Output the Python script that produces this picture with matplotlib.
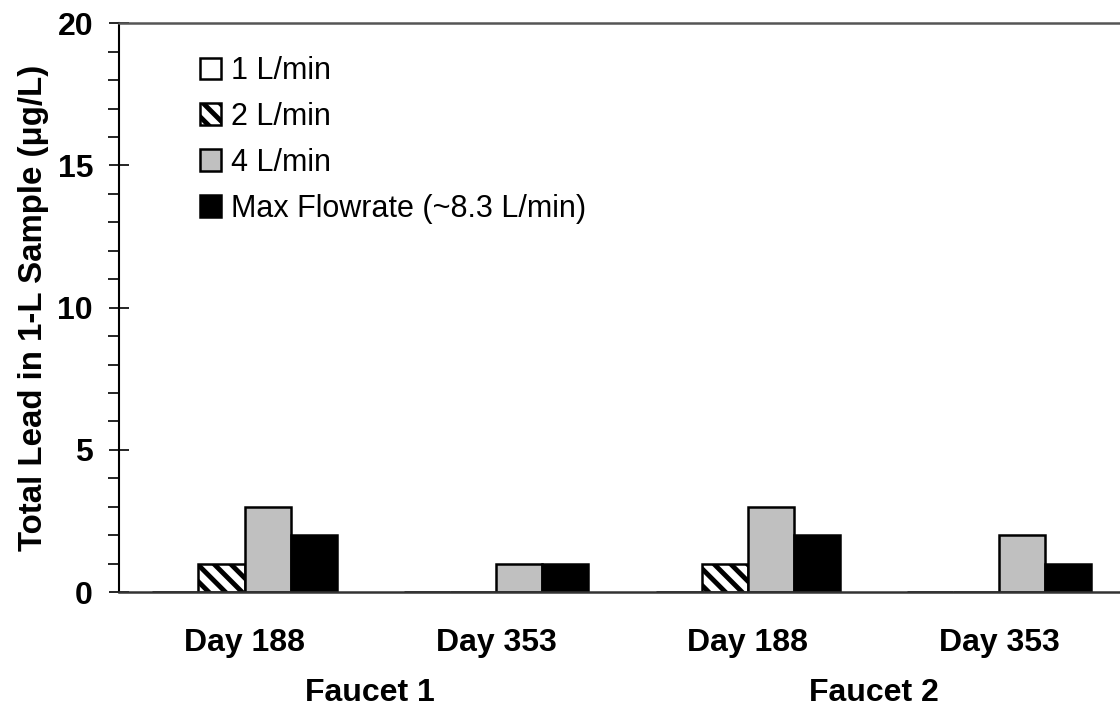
import matplotlib.pyplot as plt
import numpy as np

plt.rcParams['font.family'] = ['Liberation Sans', 'DejaVu Sans']
plt.rcParams['hatch.linewidth'] = 3.5

days = ['Day 188', 'Day 353', 'Day 188', 'Day 353']
faucets = ['Faucet 1', 'Faucet 2']
series = ['1 L/min', '2 L/min', '4 L/min', 'Max Flowrate (~8.3 L/min)']
lead_1lpm = [0, 0, 0, 0]
lead_2lpm = [1, 0, 1, 0]
lead_4lpm = [3, 1, 3, 2]
lead_max = [2, 1, 2, 1]

values = [lead_1lpm, lead_2lpm, lead_4lpm, lead_max]
colors = ['white', 'white', '#c0c0c0', 'black']
hatches = [None, '\\\\', None, None]

fig = plt.figure(figsize=(11.2, 7.25), dpi=100)
ax = fig.add_axes([0.106, 0.1834, 0.894, 0.7846])

x = np.arange(len(days))
w = 0.183
for i, (vals, c, h, lab) in enumerate(zip(values, colors, hatches, series)):
    vals = np.array(vals, dtype=float)
    ax.bar(x + (i - 1.5) * w, vals, w, color=c, edgecolor='black',
           linewidth=1.8, hatch=h, label=lab)

ax.set_xlim(-0.5, 3.48)
ax.set_ylim(0, 20)
ax.set_yticks([0, 5, 10, 15, 20])
ax.set_yticks(np.arange(0, 21, 1), minor=True)
ax.tick_params(axis='y', which='major', direction='inout', length=15,
               width=1.2, labelsize=23, pad=11)
ax.tick_params(axis='y', which='minor', direction='out', length=8, width=1.2)
for t in ax.get_yticklabels():
    t.set_fontweight('bold')

ax.set_xticks(x)
ax.set_xticklabels(days, fontsize=23, fontweight='bold')
ax.tick_params(axis='x', length=0, pad=26)

ax.spines['right'].set_visible(False)
ax.spines['top'].set_color('#555555')
ax.spines['top'].set_linewidth(1.8)
ax.spines['bottom'].set_color('#333333')
ax.spines['bottom'].set_linewidth(1.8)
ax.spines['left'].set_linewidth(1.5)

ax.set_ylabel('Total Lead in 1-L Sample (\u03bcg/L)', fontsize=23.8,
              fontweight='bold', labelpad=6)

for k, name in enumerate(faucets):
    ax.text(2 * k + 0.5, -0.177, name, transform=ax.get_xaxis_transform(),
            ha='center', va='center', fontsize=23, fontweight='bold')

leg = ax.legend(loc='upper left', bbox_to_anchor=(0.069, 0.964), frameon=False,
                fontsize=22, handlelength=0.7, handleheight=0.7,
                handletextpad=0.3, labelspacing=0.52, borderaxespad=0)

fig.savefig('out.png', dpi=100)
